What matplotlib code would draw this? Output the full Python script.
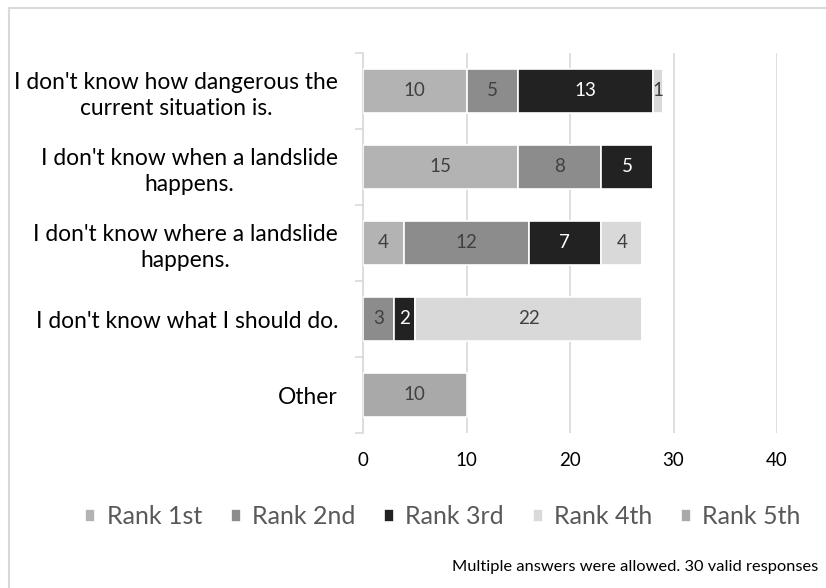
import matplotlib
matplotlib.use("Agg")
import matplotlib.pyplot as plt
from matplotlib.lines import Line2D
import numpy as np

categories = [
    "I don't know how dangerous the\ncurrent situation is.",
    "I don't know when a landslide\nhappens.",
    "I don't know where a landslide\nhappens.",
    "I don't know what I should do.",
    "Other",
]
series_names = ["Rank 1st", "Rank 2nd", "Rank 3rd", "Rank 4th", "Rank 5th"]
rank1 = [10, 15, 4, 0, 0]
rank2 = [5, 8, 12, 3, 0]
rank3 = [13, 5, 7, 2, 0]
rank4 = [1, 0, 4, 22, 0]
rank5 = [0, 0, 0, 0, 10]
x_ticks = [0, 10, 20, 30, 40]
footnote = "Multiple answers were allowed. 30 valid responses"

colors = ["#b3b3b3", "#8c8c8c", "#222222", "#d9d9d9", "#a9a9a9"]
label_colors = ["#404040", "#404040", "#ffffff", "#404040", "#404040"]

plt.rcParams['font.family'] = ['Lato', 'DejaVu Sans']

fig = plt.figure(figsize=(8.26, 5.88), dpi=100)
ax = fig.add_axes([363/826, 1-433/588, (777-363)/826, (433-53)/588])

y = np.arange(len(categories))
left = np.zeros(len(categories))
for vals, name, c, lc in zip([rank1, rank2, rank3, rank4, rank5], series_names, colors, label_colors):
    vals = np.array(vals, dtype=float)
    bars = ax.barh(y, vals, left=left, height=0.57, color=c, edgecolor="white",
                   linewidth=1.2, label=name, zorder=3)
    labels = [str(int(v)) if v > 0 else "" for v in vals]
    ax.bar_label(bars, labels=labels, label_type="center", color=lc, fontsize=13.5, zorder=4)
    left += vals

ax.set_ylim(len(categories) - 0.5, -0.5)
ax.set_xlim(0, 40)
ax.set_xticks(x_ticks)
ax.set_xticklabels([str(t) for t in x_ticks], fontsize=13.5, color="#000000")
ax.tick_params(axis="x", length=0, pad=14)
ax.xaxis.grid(True, color="#d9d9d9", linewidth=1.2, zorder=0)
ax.set_axisbelow(True)

ax.set_yticks(np.arange(len(categories) + 1) - 0.5, minor=False)
ax.set_yticklabels([""] * (len(categories) + 1))
ax.tick_params(axis="y", length=6, color="#d9d9d9", width=1.2)
ax.set_yticks(y, minor=True)
ax.set_yticklabels(categories, minor=True, fontsize=16.4, color="#000000",
                   ha="right", multialignment="center", linespacing=1.3)
ax.tick_params(axis="y", which="minor", length=0, pad=18)

for s in ["top", "right", "bottom"]:
    ax.spines[s].set_visible(False)
ax.spines["left"].set_color("#d9d9d9")
ax.spines["left"].set_linewidth(1.2)

handles, labs = ax.get_legend_handles_labels()
fig.legend(handles, labs, loc="center", bbox_to_anchor=(443/826, 1-517/588), ncol=5,
           frameon=False, fontsize=18, labelcolor="#595959", handlelength=0.4,
           handleheight=0.4, handletextpad=0.45, columnspacing=1.15)

fig.text(818/826, 1-567/588, footnote, ha="right", va="center", fontsize=11.8, color="#000000")

# chart border (left & top visible)
fig.add_artist(Line2D([9/826, 9/826], [0, 1-8/588], transform=fig.transFigure, color="#d9d9d9", linewidth=1.5))
fig.add_artist(Line2D([9/826, 1], [1-8/588, 1-8/588], transform=fig.transFigure, color="#d9d9d9", linewidth=1.5))

fig.savefig("out.png", dpi=100)
